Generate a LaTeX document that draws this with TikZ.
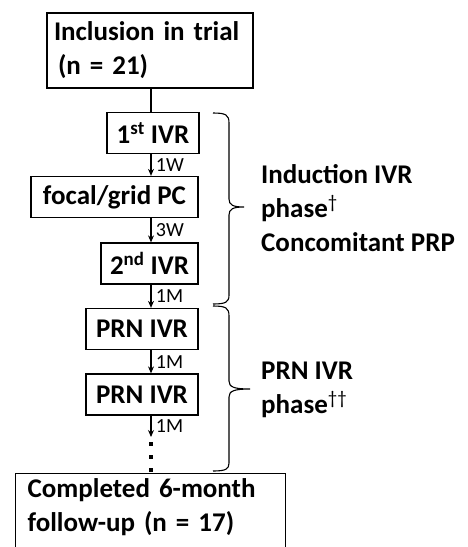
\documentclass[tikz,border=0pt]{standalone}
\usepackage{fontspec}
\setmainfont{Carlito}
\usepackage{tikz}
\usetikzlibrary{arrows.meta,
                positioning}

\begin{document}
\begin{tikzpicture}[x=1pt, y=-1pt,
  box/.style={draw, line width=1.3pt, inner sep=0pt, minimum height=41pt,
              font=\bfseries\fontsize{27}{34}\selectfont},
  gap/.style={right, xshift=1pt, font=\fontsize{20}{24}\selectfont},
  link/.style={line width=1.1pt, -{Stealth[length=7pt,width=6pt]}},
  phase/.style={align=left, anchor=west, inner sep=0pt,
                font=\bfseries\fontsize{27}{34}\selectfont}]
\useasboundingbox (0,0) rectangle (468,547);

\node[box, minimum width=206pt, minimum height=75pt, align=left, text width=192pt]
  (incl) at (150,50.5) {Inclusion in trial\\\hspace{4pt}(n = 21)};
\node[box, minimum width=92pt] (ivr1) at (153,133) {1\textsuperscript{st} IVR};
\node[box, minimum width=167pt] (pc) at (114.5,197) {focal/grid PC};
\node[box, minimum width=97pt] (ivr2) at (149.5,263.5) {2\textsuperscript{nd} IVR};
\node[box, minimum width=112pt] (prn1) at (142,329) {PRN IVR};
\node[box, minimum width=112pt] (prn2) at (142,394.5) {PRN IVR};
\node[box, anchor=north west, minimum width=270pt, inner ysep=5pt, align=left,
  text width=246pt, text depth=60pt] (done) at (15,473)
  {Completed 6-month\\follow-up (n = 17)};

% arrows between the steps, all on one vertical
\coordinate (axis) at (151,0);
\draw[line width=1.1pt] (incl.south -| axis) -- (ivr1.north -| axis);
\draw[link] (ivr1.south -| axis) -- (pc.north -| axis) node[gap, midway] {1W};
\draw[link] (pc.south -| axis) -- (ivr2.north -| axis) node[gap, midway] {3W};
\draw[link] (ivr2.south -| axis) -- (prn1.north -| axis) node[gap, midway] {1M};
\draw[link] (prn1.south -| axis) -- (prn2.north -| axis) node[gap, midway] {1M};
\coordinate (more) at (151,437);
\draw[link] (prn2.south -| axis) -- (more) node[gap, midway] {1M};
\draw[line width=4pt, dash pattern=on 4pt off 9pt] ([yshift=-5pt]more) -- (more |- done.north);

% braces
\draw[line width=1.1pt] (213,113) .. controls (226,113) and (229,115) .. (229,123)
  -- (229,199) .. controls (229,205) and (233,207) .. (244,207)
  .. controls (233,207) and (229,209) .. (229,215)
  -- (229,295) .. controls (229,302) and (226,304) .. (213,304);
\draw[line width=1.1pt] (213,306) .. controls (226,306) and (229,308) .. (229,316)
  -- (229,381) .. controls (229,387) and (234,389) .. (250,389)
  .. controls (234,389) and (229,391) .. (229,397)
  -- (229,463) .. controls (229,469) and (226,471) .. (213,471);

\node[phase] (induct) at (261,208) {Induction IVR\\phase\textsuperscript{\mdseries\dag}\\Concomitant PRP};
\node[phase] (prnph) at (261,390) {PRN IVR\\phase\textsuperscript{\mdseries\dag\dag}};
\end{tikzpicture}
\end{document}
